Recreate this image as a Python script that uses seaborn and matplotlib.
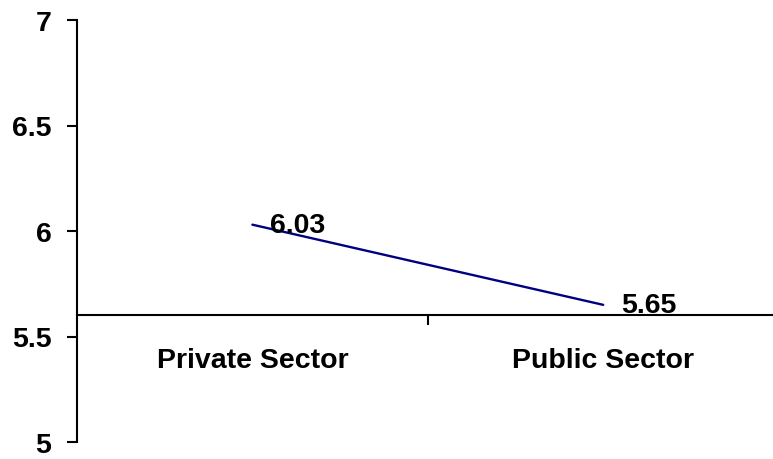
import matplotlib
matplotlib.use("Agg")
import matplotlib.pyplot as plt
import seaborn as sns
import pandas as pd

categories = ["Private Sector", "Public Sector"]
values = [6.03, 5.65]
value_labels = ["6.03", "5.65"]
y_ticks = [5, 5.5, 6, 6.5, 7]
y_tick_labels = ["5", "5.5", "6", "6.5", "7"]

sns.set_style("white")
plt.rcParams['font.family'] = ['Liberation Sans', 'DejaVu Sans']
plt.rcParams['font.weight'] = 'bold'
plt.rcParams['text.color'] = 'black'
plt.rcParams['xtick.color'] = 'black'
plt.rcParams['ytick.color'] = 'black'
FS = 20.5

df = pd.DataFrame({"cat": categories, "val": values})

fig = plt.figure(figsize=(7.73, 4.6), dpi=100)
ax = fig.add_axes([77/773, 1 - 443/460, 1 - 77/773, (443 - 21)/460])

sns.lineplot(data=df, x="cat", y="val", ax=ax, color="#000080", linewidth=1.7,
             sort=False)

ax.set_xlim(-0.5, 1.484)
ax.set_ylim(5, 7)
ax.set_xlabel("")
ax.set_ylabel("")

for spine in ["top", "right"]:
    ax.spines[spine].set_visible(False)
ax.spines["left"].set_linewidth(1.5)
ax.spines["left"].set_color("black")
ax.spines["bottom"].set_linewidth(1.5)
ax.spines["bottom"].set_color("black")
ax.spines["bottom"].set_position(("data", 5.6))

ax.set_yticks(y_ticks)
ax.set_yticklabels(y_tick_labels, fontsize=FS, fontweight="bold", color="black")
ax.tick_params(axis="y", which="major", direction="out", length=7.5, width=1.5,
               pad=11, left=True, colors="black")

ax.set_xticks([0.5])
ax.set_xticklabels([""])
ax.set_xticks([0, 1], minor=True)
ax.set_xticklabels(categories, minor=True, fontsize=FS, fontweight="bold",
                   color="black")
ax.tick_params(axis="x", which="major", direction="out", length=7.5, width=1.5,
               bottom=True, colors="black")
ax.tick_params(axis="x", which="minor", length=0, pad=23, bottom=True,
               colors="black")

for i, (v, lab) in enumerate(zip(values, value_labels)):
    ax.annotate(lab, xy=(i, v), xytext=(13, 0), textcoords="offset points",
                ha="left", va="center", fontsize=FS, fontweight="bold",
                color="black")

ax.grid(False)
fig.savefig("out.png", dpi=100)
